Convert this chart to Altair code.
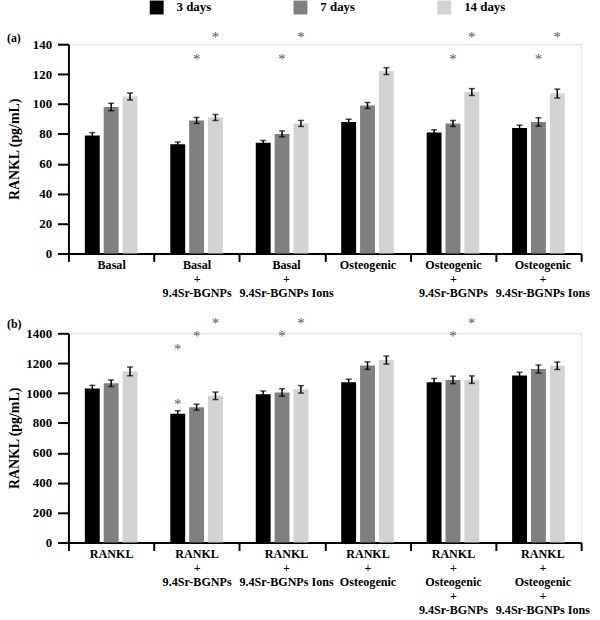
import altair as alt
import pandas as pd

days = ["3 days", "7 days", "14 days"]
day_colors = ["#000000", "#808080", "#d3d3d3"]

groups_a = ["Basal", "Basal|+|9.4Sr-BGNPs", "Basal|+|9.4Sr-BGNPs Ions",
            "Osteogenic", "Osteogenic|+|9.4Sr-BGNPs", "Osteogenic|+|9.4Sr-BGNPs Ions"]
a_3 = [79, 73, 74, 88, 81, 84]
a_7 = [98, 89, 80, 99, 87, 88]
a_14 = [105, 91, 87, 122, 108, 107]
a_err_3 = [1.9, 1.6, 1.6, 1.8, 1.8, 1.9]
a_err_7 = [2.5, 2.0, 2.0, 2.0, 2.0, 2.8]
a_err_14 = [2.3, 2.0, 2.0, 2.3, 2.3, 3.0]

groups_b = ["RANKL", "RANKL|+|9.4Sr-BGNPs", "RANKL|+|9.4Sr-BGNPs Ions", "RANKL|+|Osteogenic",
            "RANKL|+|Osteogenic|+|9.4Sr-BGNPs", "RANKL|+|Osteogenic|+|9.4Sr-BGNPs Ions"]
b_3 = [1030, 862, 992, 1073, 1073, 1117]
b_7 = [1066, 906, 1004, 1184, 1088, 1161]
b_14 = [1145, 982, 1025, 1221, 1090, 1183]
b_err_3 = [22, 20, 22, 20, 25, 22]
b_err_7 = [22, 20, 25, 25, 25, 27]
b_err_14 = [29, 25, 25, 27, 25, 25]

# significance asterisks (group index, day, height in data units)
a_star_group = [1, 1, 2, 2, 4, 4, 5, 5]
a_star_day = ["7 days", "14 days"] * 4
a_star_y = [132, 147, 132, 147, 132, 147, 132, 147]

b_star_group = [1, 1, 1, 1, 2, 2, 4, 4]
b_star_day = ["3 days", "3 days", "7 days", "14 days", "7 days", "14 days", "7 days", "14 days"]
b_star_y = [944, 1317, 1403, 1489, 1403, 1489, 1403, 1489]

FONT = "Liberation Serif"


def make_df(groups, v3, v7, v14, e3, e7, e14):
    rows = []
    for i, g in enumerate(groups):
        for d, v, e in zip(days, (v3[i], v7[i], v14[i]), (e3[i], e7[i], e14[i])):
            rows.append({"group": g, "day": d, "value": v, "lo": v - e, "hi": v + e})
    return pd.DataFrame(rows)


def make_stars(groups, gi, dd, yy):
    return pd.DataFrame({"group": [groups[i] for i in gi], "day": dd, "y": yy})


def panel(df, sdf, groups, ymax, ystep, label):
    x = alt.X("group:N", sort=groups,
              scale=alt.Scale(domain=groups, paddingInner=0, paddingOuter=0),
              axis=alt.Axis(title=None, labelAngle=0,
                            labelExpr="split(datum.label, '|')",
                            labelOffset={"condition": {"test": "indexof(datum.label, 'Ions') >= 0",
                                                       "value": 4}, "value": 0},
                            tickBand="extent", tickSize=8, tickWidth=2, tickColor="black",
                            domainWidth=2, domainColor="black", labelColor="black",
                            labelFont=FONT, labelFontWeight="bold", labelFontSize=12.2,
                            labelLineHeight=14.2, labelPadding=-3, labelBaseline="top"))
    xo = alt.XOffset("day:N", sort=days,
                     scale=alt.Scale(domain=days, paddingInner=0.21, paddingOuter=0.87))
    yscale = alt.Scale(domain=[0, ymax], nice=False)
    yaxis = alt.Axis(title="RANKL (pg/mL)", values=list(range(0, ymax + 1, ystep)),
                     format="d", labelOverlap=False,
                     grid=False, tickSize=11, tickWidth=2, tickColor="black",
                     domainWidth=2, domainColor="black", labelColor="black",
                     labelFont=FONT, labelFontWeight="bold", labelFontSize=13,
                     labelPadding=6, titleFont=FONT, titleFontWeight="bold",
                     titleFontSize=14, titleColor="black",
                     titleX=-54, titleBaseline="middle")
    color = alt.Color("day:N", sort=days, scale=alt.Scale(domain=days, range=day_colors),
                      legend=alt.Legend(title=None, orient="none", direction="horizontal",
                                        legendX=82, legendY=-44, padding=0, symbolType="square",
                                        symbolSize=196, symbolStrokeWidth=0, symbolOpacity=1,
                                        labelFont=FONT, labelFontWeight="bold", labelFontSize=13,
                                        labelColor="black", labelOffset=13, columnPadding=82))
    bars = alt.Chart(df).mark_bar().encode(
        x=x, xOffset=xo, y=alt.Y("value:Q", scale=yscale, axis=yaxis), color=color)
    rules = alt.Chart(df).mark_rule(color="black", strokeWidth=1.5).encode(
        x=x, xOffset=xo, y=alt.Y("lo:Q", scale=yscale, axis=yaxis), y2="hi:Q")
    cap_hi = alt.Chart(df).mark_tick(color="black", thickness=1.5, size=6, orient="horizontal").encode(
        x=x, xOffset=xo, y=alt.Y("hi:Q", scale=yscale, axis=yaxis))
    cap_lo = alt.Chart(df).mark_tick(color="black", thickness=1.5, size=6, orient="horizontal").encode(
        x=x, xOffset=xo, y=alt.Y("lo:Q", scale=yscale, axis=yaxis))
    stars = alt.Chart(sdf).mark_text(text="*", font=FONT, fontSize=15, fill="#555555",
                                     opacity=0.99, baseline="alphabetic", dy=8).encode(
        x=x, xOffset=xo, y=alt.Y("y:Q", scale=yscale, axis=yaxis))
    return alt.layer(bars, rules, cap_hi, cap_lo, stars).properties(
        width=517, height=211,
        title=alt.TitleParams(label, anchor="start", frame="group", orient="top", offset=0,
                              dx=-62, dy=20, font=FONT, fontWeight="bold", fontSize=12,
                              color="black", baseline="middle"))


df_a = make_df(groups_a, a_3, a_7, a_14, a_err_3, a_err_7, a_err_14)
df_b = make_df(groups_b, b_3, b_7, b_14, b_err_3, b_err_7, b_err_14)
s_a = make_stars(groups_a, a_star_group, a_star_day, a_star_y)
s_b = make_stars(groups_b, b_star_group, b_star_day, b_star_y)

chart = alt.vconcat(
    panel(df_a, s_a, groups_a, 140, 20, "(a)"),
    panel(df_b, s_b, groups_b, 1400, 200, "(b)"),
    spacing=80.5, bounds="flush"
).properties(padding={"left": 6, "top": -2, "right": 10, "bottom": 2}
).configure_view(stroke=None).configure(background="white")

chart.save("out.html", embed_options={"renderer": "svg", "actions": False})
